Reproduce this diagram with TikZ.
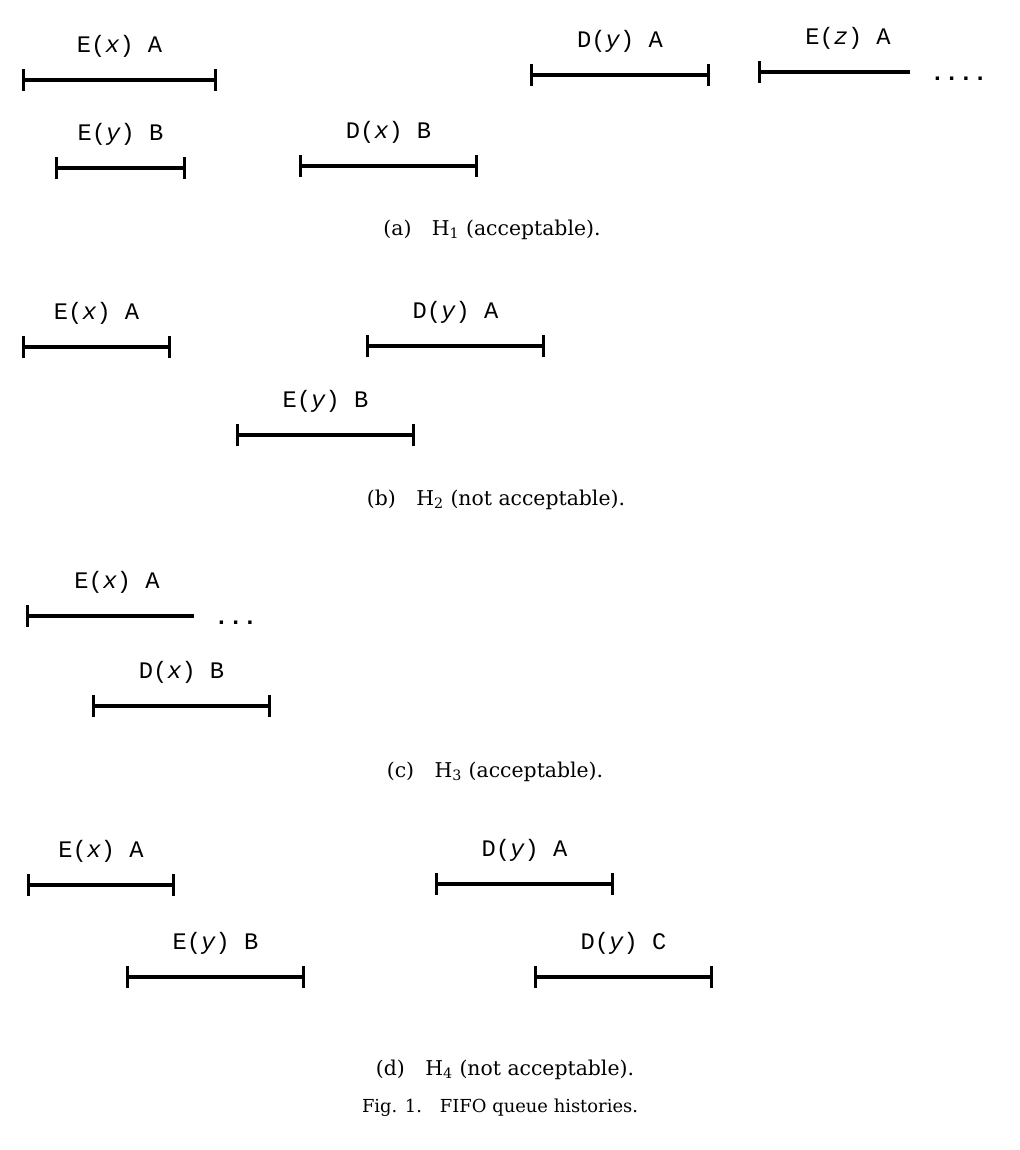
\documentclass[tikz,border=0pt]{standalone}
\usepackage{fontspec}
\newfontfamily\histfont{Liberation Mono}
\newfontfamily\capfont{DejaVu Serif}
\usepackage{tikz}
\usetikzlibrary{positioning, arrows.meta}

\begin{document}
\begin{tikzpicture}[
    x=0.02cm, y=-0.02cm,
    interval/.style={{Bar[width=0.44cm]}-{Bar[width=0.44cm]}, line width=1.9pt},
    pending/.style={{Bar[width=0.44cm]}-, line width=1.9pt},
    oplabel/.style={midway, above=0.42cm, inner sep=0pt, font=\histfont\fontsize{13.5}{16}\selectfont},
    more/.style={anchor=base west, inner sep=0pt, font=\histfont\bfseries\fontsize{13.5}{16}\selectfont},
    caption/.style={anchor=base, inner sep=0pt, font=\capfont\fontsize{11.6}{14}\selectfont}
]
\useasboundingbox (0,0) rectangle (1020,1150);

% (a) H_1
\coordinate (a1l) at (22,80);   \coordinate (a1r) at (217,80);
\coordinate (a2l) at (530,75);  \coordinate (a2r) at (710,75);
\coordinate (a3l) at (758,72);  \coordinate (a3r) at (910,72);
\coordinate (a4l) at (55,168);  \coordinate (a4r) at (186,168);
\coordinate (a5l) at (299,166); \coordinate (a5r) at (478,166);
\draw[interval] (a1l) -- node[oplabel] (la1) {E(\textit{x}) A} (a1r);
\draw[interval] (a2l) -- node[oplabel] (la2) {D(\textit{y}) A} (a2r);
\draw[pending] (a3l) -- node[oplabel, xshift=0.28cm] (la3) {E(\textit{z}) A} (a3r);
\draw[interval] (a4l) -- node[oplabel] (la4) {E(\textit{y}) B} (a4r);
\draw[interval] (a5l) -- node[oplabel] (la5) {D(\textit{x}) B} (a5r);
\node[more] (dotsa) at (930,80) {....};
\node[caption] (capa) at (492,235) {(a)\quad H\textsubscript{1}\ (acceptable).};

% (b) H_2
\coordinate (b1l) at (22,347);  \coordinate (b1r) at (171,347);
\coordinate (b2l) at (366,346); \coordinate (b2r) at (545,346);
\coordinate (b3l) at (236,435); \coordinate (b3r) at (415,435);
\draw[interval] (b1l) -- node[oplabel] (lb1) {E(\textit{x}) A} (b1r);
\draw[interval] (b2l) -- node[oplabel] (lb2) {D(\textit{y}) A} (b2r);
\draw[interval] (b3l) -- node[oplabel] (lb3) {E(\textit{y}) B} (b3r);
\node[caption] (capb) at (496,505) {(b)\quad H\textsubscript{2}\ (not acceptable).};

% (c) H_3
\coordinate (c1l) at (26,616);  \coordinate (c1r) at (194,616);
\coordinate (c2l) at (92,706);  \coordinate (c2r) at (271,706);
\draw[pending] (c1l) -- node[oplabel, xshift=0.14cm] (lc1) {E(\textit{x}) A} (c1r);
\draw[interval] (c2l) -- node[oplabel] (lc2) {D(\textit{x}) B} (c2r);
\node[more] (dotsc) at (214,624) {...};
\node[caption] (capc) at (495,777) {(c)\quad H\textsubscript{3}\ (acceptable).};

% (d) H_4
\coordinate (d1l) at (27,885);  \coordinate (d1r) at (175,885);
\coordinate (d2l) at (435,884); \coordinate (d2r) at (614,884);
\coordinate (d3l) at (126,977); \coordinate (d3r) at (305,977);
\coordinate (d4l) at (534,977); \coordinate (d4r) at (713,977);
\draw[interval] (d1l) -- node[oplabel] (ld1) {E(\textit{x}) A} (d1r);
\draw[interval] (d2l) -- node[oplabel] (ld2) {D(\textit{y}) A} (d2r);
\draw[interval] (d3l) -- node[oplabel] (ld3) {E(\textit{y}) B} (d3r);
\draw[interval] (d4l) -- node[oplabel] (ld4) {D(\textit{y}) C} (d4r);
\node[caption] (capd) at (505,1075) {(d)\quad H\textsubscript{4}\ (not acceptable).};

% Figure caption
\node[caption, font=\capfont\fontsize{10.2}{13}\selectfont] (fig) at (500,1112) {Fig. 1.\quad FIFO queue histories.};
\end{tikzpicture}
\end{document}
